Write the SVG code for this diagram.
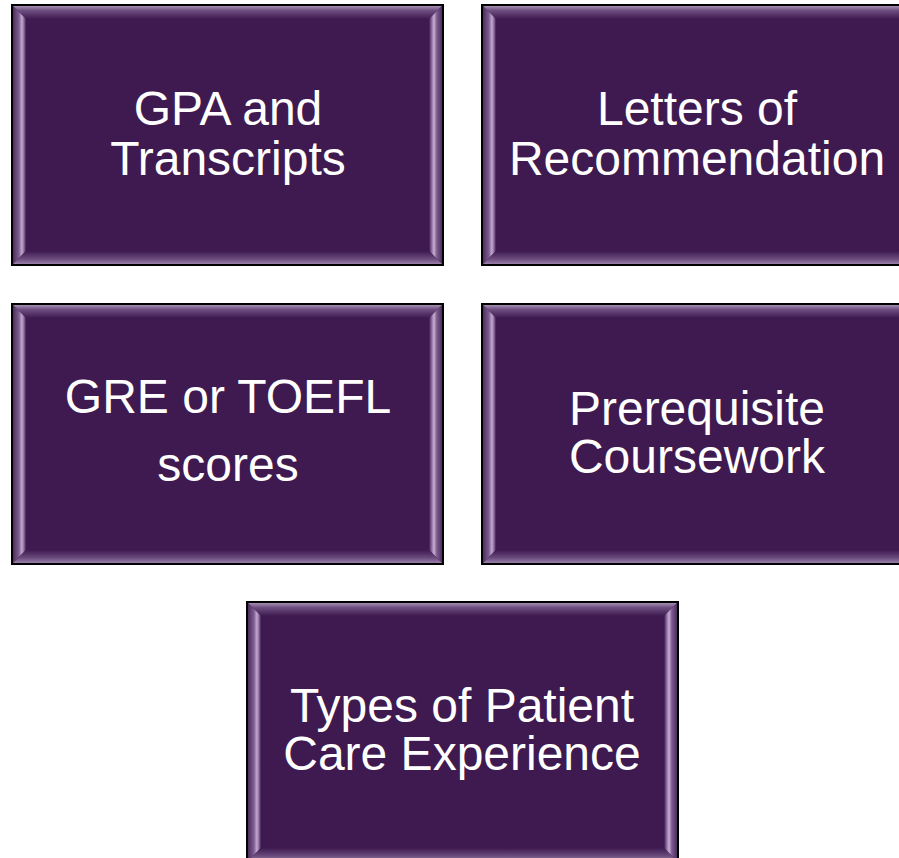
<svg xmlns="http://www.w3.org/2000/svg" xmlns:xlink="http://www.w3.org/1999/xlink" width="899" height="858" viewBox="0 0 899 858">
<style>
.lbl{font-family:"Liberation Sans",Arial,sans-serif;font-size:48px;fill:#ffffff;text-anchor:middle}
</style>
<defs>
<linearGradient id="gTop" x1="0" y1="0" x2="0" y2="1"><stop offset="0" stop-color="#a58fb0"/><stop offset="0.35" stop-color="#6e4e80"/><stop offset="1" stop-color="#3e1a50"/></linearGradient>
<linearGradient id="gLeft" x1="0" y1="0" x2="1" y2="0"><stop offset="0" stop-color="#4e2c60"/><stop offset="0.45" stop-color="#7c5c8e"/><stop offset="0.68" stop-color="#c4a8d0"/><stop offset="0.85" stop-color="#8a6a9c"/><stop offset="1" stop-color="#3e1a50"/></linearGradient>
<linearGradient id="gRight" x1="0" y1="0" x2="1" y2="0"><stop offset="0" stop-color="#3e1a50"/><stop offset="0.2" stop-color="#8a6a9c"/><stop offset="0.38" stop-color="#caaed6"/><stop offset="0.6" stop-color="#7c5c8e"/><stop offset="1" stop-color="#4e2c60"/></linearGradient>
<linearGradient id="gBot" x1="0" y1="0" x2="0" y2="1"><stop offset="0" stop-color="#3e1a50"/><stop offset="0.6" stop-color="#6a4a7c"/><stop offset="1" stop-color="#9a80aa"/></linearGradient>
<g id="box">
<rect x="0" y="0" width="431" height="260" fill="#3e1a50"/>
<polygon points="1,1 430,1 417,14 14,14" fill="url(#gTop)"/>
<polygon points="1,1 14,14 14,246 1,259" fill="url(#gLeft)"/>
<polygon points="430,1 430,259 417,246 417,14" fill="url(#gRight)"/>
<polygon points="1,259 14,246 417,246 430,259" fill="url(#gBot)"/>
<rect x="0" y="0" width="431" height="260" fill="none" stroke="#000" stroke-width="2"/>
</g>
</defs>
<g id="connectors"/>
<g id="node-gpa">
<use xlink:href="#box" x="12" y="5"/>
<text class="lbl" x="228" y="125">GPA and</text>
<text class="lbl" x="228" y="175">Transcripts</text>
</g>
<g id="node-letters">
<use xlink:href="#box" x="482" y="5"/>
<text class="lbl" x="697" y="125">Letters of</text>
<text class="lbl" x="697" y="175">Recommendation</text>
</g>
<g id="node-gre">
<use xlink:href="#box" x="12" y="304"/>
<text class="lbl" x="228" y="413">GRE or TOEFL</text>
<text class="lbl" x="228" y="481">scores</text>
</g>
<g id="node-prereq">
<use xlink:href="#box" x="482" y="304"/>
<text class="lbl" x="697" y="425">Prerequisite</text>
<text class="lbl" x="697" y="473">Coursework</text>
</g>
<g id="node-patient">
<use xlink:href="#box" x="247" y="602"/>
<text class="lbl" x="462" y="722">Types of Patient</text>
<text class="lbl" x="462" y="770">Care Experience</text>
</g>
</svg>
